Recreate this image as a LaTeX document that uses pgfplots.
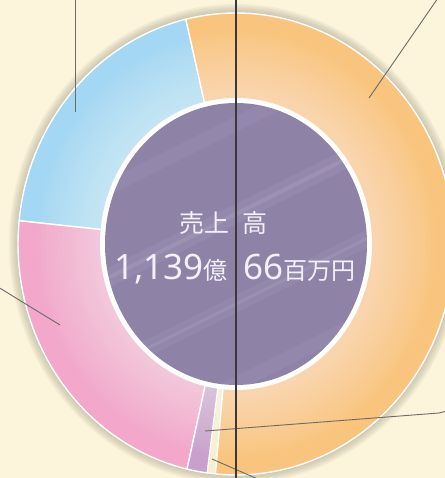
\documentclass[border=0pt]{standalone}
\usepackage{pgfplots}
\pgfplotsset{compat=1.18}
\usepackage{pgfplotstable}
\usepackage{fontspec}
\newfontfamily\jp{Noto Sans CJK JP}
\newfontfamily\num{Noto Sans}
\definecolor{bg}{HTML}{FCF5DC}
\definecolor{cOrange}{HTML}{F9C47E}
\definecolor{cBlue}{HTML}{A3D7F3}
\definecolor{cPink}{HTML}{F2A7CB}
\definecolor{cPurple}{HTML}{C9A0CB}
\definecolor{cOther}{HTML}{F7F0D0}
\definecolor{cCenter}{HTML}{8E82A7}
\definecolor{txt}{HTML}{F3F0F8}
\definecolor{leader}{HTML}{6E6A66}
\definecolor{vline}{HTML}{3A3838}
\definecolor{shadow}{HTML}{A39D88}

% shares of sales (%), counter-clockwise from the blue slice
\pgfplotstableread{
name   share
blue   19.7
pink   23.0
purple 1.5
other  0.6
orange 55.2
}\shares

\begin{document}
\begin{tikzpicture}
\pgfmathsetmacro\aS{103.3}
\pgfplotstablegetelem{0}{share}\of\shares
\pgfmathsetmacro\aA{\aS+3.6*\pgfplotsretval}
\pgfplotstablegetelem{1}{share}\of\shares
\pgfmathsetmacro\aB{\aA+3.6*\pgfplotsretval}
\pgfplotstablegetelem{2}{share}\of\shares
\pgfmathsetmacro\aC{\aB+3.6*\pgfplotsretval}
\pgfplotstablegetelem{3}{share}\of\shares
\pgfmathsetmacro\aD{\aC+3.6*\pgfplotsretval}
\pgfplotstablegetelem{4}{share}\of\shares
\pgfmathsetmacro\aE{\aD+3.6*\pgfplotsretval}
\begin{axis}[x=1bp, y=1bp, xmin=-236, xmax=209, ymin=-234, ymax=244,
  hide axis, clip=true]
  % background
  \fill[bg] (axis cs:-236,-234) rectangle (axis cs:209,244);
  % soft shadow around the ring
  \pgfplotsinvokeforeach{1,...,7}{
    \fill[shadow, opacity=0.085] (axis cs:0,0) ellipse [x radius={218+1.3*#1}, y radius={231+1.3*#1}];
  }
  % slices
  \addplot[draw=white, line width=1.4bp, line join=round, fill=cBlue, domain=\aS:\aA, samples=60]
    ({218*cos(x)},{231*sin(x)}) -- (axis cs:0,0) -- cycle;
  \addplot[draw=white, line width=1.4bp, line join=round, fill=cPink, domain=\aA:\aB, samples=60]
    ({218*cos(x)},{231*sin(x)}) -- (axis cs:0,0) -- cycle;
  \addplot[draw=white, line width=1.4bp, line join=round, fill=cPurple, domain=\aB:\aC, samples=10]
    ({218*cos(x)},{231*sin(x)}) -- (axis cs:0,0) -- cycle;
  \addplot[draw=white, line width=1.0bp, line join=round, fill=cOther, domain=\aC:\aD, samples=6]
    ({218*cos(x)},{231*sin(x)}) -- (axis cs:0,0) -- cycle;
  \addplot[draw=white, line width=1.4bp, line join=round, fill=cOrange, domain=\aD:\aE, samples=150]
    ({218*cos(x)},{231*sin(x)}) -- (axis cs:0,0) -- cycle;
  % lighter glow toward the inner edge
  \pgfplotsinvokeforeach{0,...,15}{
    \fill[white, opacity=0.035] (axis cs:0,0) ellipse [x radius={136+4.2*#1}, y radius={146+4.4*#1}];
  }
  % centre disc
  \fill[white] (axis cs:0,0) ellipse [x radius=136, y radius=146];
  \fill[cCenter] (axis cs:0,0) ellipse [x radius=131, y radius=141];
  \begin{scope}
    \clip (axis cs:0,0) ellipse [x radius=131, y radius=141];
    \draw[white, opacity=0.06, line width=18bp] (axis cs:-160,-50) -- (axis cs:160,110);
    \draw[white, opacity=0.08, line width=4bp] (axis cs:-160,-50) -- (axis cs:160,110);
    \draw[white, opacity=0.05, line width=16bp] (axis cs:-160,-140) -- (axis cs:160,20);
    \draw[white, opacity=0.07, line width=3bp] (axis cs:-160,-140) -- (axis cs:160,20);
    \draw[white, opacity=0.05, line width=14bp] (axis cs:-160,40) -- (axis cs:160,200);
    \draw[white, opacity=0.05, line width=14bp] (axis cs:-160,-220) -- (axis cs:160,-60);
  \end{scope}
  % centre text
  \node[anchor=base east, inner sep=0pt, text=txt] at (axis cs:-6,11)
    {\jp\fontsize{25bp}{25bp}\selectfont 売上};
  \node[anchor=base west, inner sep=0pt, text=txt] at (axis cs:6,11)
    {\jp\fontsize{25bp}{25bp}\selectfont 高};
  \node[anchor=base east, inner sep=0pt, text=txt] at (axis cs:-8,-35.5)
    {\num\fontsize{35bp}{35bp}\selectfont 1,139\jp\fontsize{24bp}{24bp}\selectfont 億};
  \node[anchor=base west, inner sep=0pt, text=txt] at (axis cs:7,-35.5)
    {\num\fontsize{35bp}{35bp}\selectfont 66\jp\fontsize{24bp}{24bp}\selectfont 百万円};
  % leader lines
  \addplot[leader, line width=0.9bp] coordinates {(-161,244) (-161,132)};
  \addplot[leader, line width=0.9bp] coordinates {(202,246) (133,146)};
  \addplot[leader, line width=0.9bp] coordinates {(-238,-43) (-176,-81)};
  \addplot[leader, line width=0.9bp] coordinates {(211,-167) (203,-169) (-31,-187)};
  \addplot[leader, line width=0.9bp] coordinates {(-24,-215) (24,-236)};
  % vertical rule
  \addplot[vline, line width=1.2bp] coordinates {(0,-236) (0,246)};
\end{axis}
\end{tikzpicture}
\end{document}
